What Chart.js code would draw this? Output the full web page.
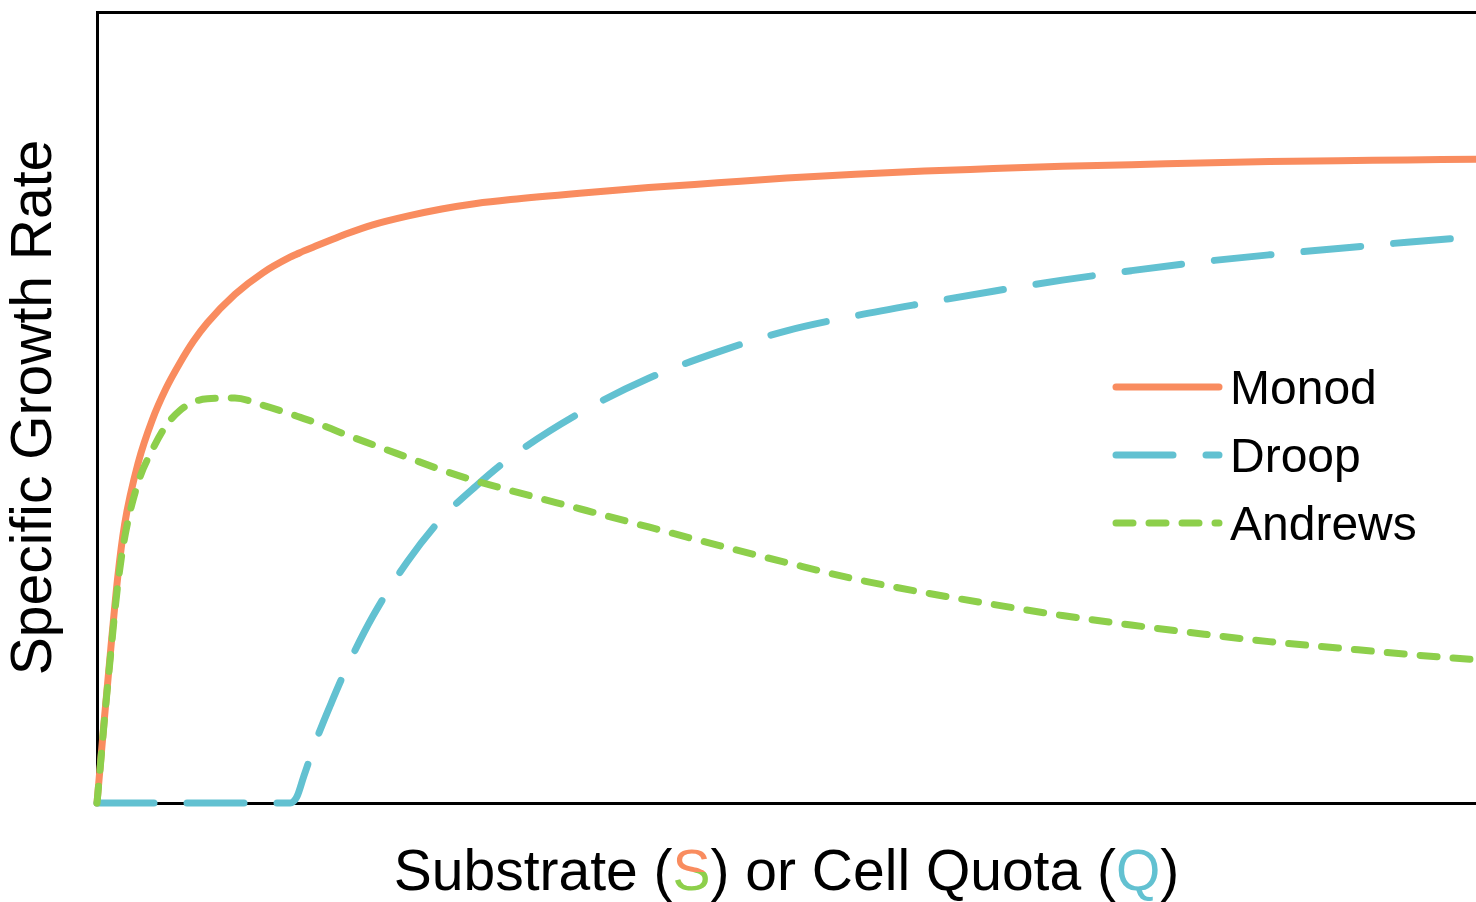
<!DOCTYPE html>
<html>
<head>
<meta charset="utf-8">
<title>Growth rate models</title>
<script src="https://cdn.jsdelivr.net/npm/chart.js@4.4.0/dist/chart.umd.min.js"></script>
<style>
  html, body { margin: 0; padding: 0; background: #fff; }
  #wrap { width: 1476px; height: 902px; }
</style>
</head>
<body>
<div id="wrap"><canvas id="myChart" width="1476" height="902"></canvas></div>
<script>
// x in arbitrary units (0..100), y as fraction of the axis height
var xValues = [0, 0.25, 0.5, 1, 1.5, 2, 3, 4, 5, 6, 7, 8, 10, 12, 14, 14.5, 15, 16, 17, 18,
               20, 22.5, 25, 27.5, 30, 35, 40, 45, 50, 55, 60, 65, 70, 75, 80, 85, 90, 95, 100];

var monod = [0, .050, .100, .195, .285, .352, .431, .484, .524, .556, .584, .607, .643, .670, .690, .694, .698, .705, .712, .719,
             .731, .742, .751, .758, .763, .771, .778, .784, .790, .795, .799, .802, .805, .807, .809, .811, .812, .813, .814];

var droop = [0, 0, 0, 0, 0, 0, 0, 0, 0, 0, 0, 0, 0, 0, 0, .008, .034, .084, .127, .167,
             .236, .305, .360, .401, .437, .493, .537, .570, .597, .616, .632, .647, .661, .673, .684, .693, .701, .709, .716];

var andrews = [0, .048, .098, .190, .275, .335, .406, .446, .477, .496, .507, .511, .512, .503, .492, .489, .486, .480, .473, .466,
               .453, .437, .421, .407, .395, .372, .349, .326, .304, .283, .266, .251, .237, .225, .214, .204, .196, .188, .181];

var seriesNames = ['Monod', 'Droop', 'Andrews'];
var orange = '#F98C5F';
var teal = '#62C1D1';
var green = '#8DCF4B';

var yTitle = 'Specific Growth Rate';
var xTitleParts = [
    { text: 'Substrate (', color: '#000' },
    { text: 'S', color: [orange, green] },
    { text: ') or Cell Quota (', color: '#000' },
    { text: 'Q', color: teal },
    { text: ')', color: '#000' }
];

var fontFamily = '"Liberation Sans", Arial, Helvetica, sans-serif';

function pts(ys) {
    return xValues.map(function(x, i) { return { x: x, y: ys[i] }; });
}

// x axis title with two-tone S
var xTitlePlugin = {
    id: 'xTitlePlugin',
    afterDraw: function(chart) {
        var ctx = chart.ctx;
        var area = chart.chartArea;
        var size = 57;
        ctx.save();
        ctx.font = size + 'px ' + fontFamily;
        ctx.textBaseline = 'alphabetic';
        ctx.textAlign = 'left';
        var total = 0;
        xTitleParts.forEach(function(p) { total += ctx.measureText(p.text).width; });
        var x = (area.left + area.right) / 2 - total / 2;
        var base = area.bottom + 87;
        xTitleParts.forEach(function(p) {
            if (Array.isArray(p.color)) {
                var g = ctx.createLinearGradient(0, base - size * 0.74, 0, base + 1);
                g.addColorStop(0, p.color[0]);
                g.addColorStop(0.55, p.color[0]);
                g.addColorStop(0.55, p.color[1]);
                g.addColorStop(1, p.color[1]);
                ctx.fillStyle = g;
            } else {
                ctx.fillStyle = p.color;
            }
            ctx.fillText(p.text, x, base);
            x += ctx.measureText(p.text).width;
        });
        ctx.restore();
    }
};

// legend drawn inside the plot area, using each dataset's own line style
var innerLegend = {
    id: 'innerLegend',
    afterDraw: function(chart) {
        var ctx = chart.ctx;
        var lineX = 1116, lineLen = 103, textX = 1230, rowY = 387, rowGap = 68;
        ctx.save();
        ctx.font = '48px ' + fontFamily;
        ctx.textBaseline = 'alphabetic';
        chart.data.datasets.forEach(function(ds, i) {
            var y = rowY + i * rowGap;
            ctx.beginPath();
            ctx.setLineDash(ds.borderDash || []);
            ctx.lineDashOffset = 0;
            ctx.lineCap = 'round';
            ctx.lineWidth = ds.borderWidth;
            ctx.strokeStyle = ds.borderColor;
            ctx.moveTo(lineX, y);
            ctx.lineTo(lineX + lineLen, y);
            ctx.stroke();
            ctx.setLineDash([]);
            ctx.fillStyle = '#000';
            ctx.fillText(ds.label, textX, y + 17);
        });
        ctx.restore();
    }
};

var ctx = document.getElementById('myChart');
var myChart = new Chart(ctx, {
    type: 'line',
    data: {
        datasets: [{
            label: seriesNames[0],
            data: pts(monod),
            borderColor: orange,
            borderWidth: 7,
            order: 3
        }, {
            label: seriesNames[1],
            data: pts(droop),
            borderColor: teal,
            borderWidth: 7,
            borderDash: [57, 33],
            order: 2
        }, {
            label: seriesNames[2],
            data: pts(andrews),
            borderColor: green,
            borderWidth: 7,
            borderDash: [17, 16],
            order: 1
        }]
    },
    options: {
        responsive: false,
        animation: false,
        layout: { padding: 0 },
        elements: {
            point: { radius: 0 },
            line: {
                cubicInterpolationMode: 'monotone',
                borderCapStyle: 'round',
                borderJoinStyle: 'round',
                fill: false
            }
        },
        datasets: { line: { clip: false } },
        plugins: {
            legend: { display: false },
            tooltip: { enabled: false }
        },
        scales: {
            x: {
                type: 'linear',
                position: 'bottom',
                min: 0,
                max: 100,
                grid: { display: false },
                ticks: { display: false },
                border: { display: true, color: '#000', width: 3 },
                afterFit: function(scale) { scale.height = 99; }
            },
            xTop: {
                type: 'linear',
                position: 'top',
                min: 0,
                max: 100,
                grid: { display: false },
                ticks: { display: false },
                border: { display: true, color: '#000', width: 3 },
                afterFit: function(scale) { scale.height = 12; }
            },
            y: {
                type: 'linear',
                min: 0,
                max: 1,
                grid: { display: false },
                ticks: { display: false },
                border: { display: true, color: '#000', width: 3 },
                title: {
                    display: true,
                    text: yTitle,
                    color: '#000',
                    font: { size: 57, family: fontFamily },
                    padding: { top: 1, bottom: 0 }
                },
                afterFit: function(scale) { scale.width = 97; }
            }
        }
    },
    plugins: [xTitlePlugin, innerLegend]
});
</script>
</body>
</html>
